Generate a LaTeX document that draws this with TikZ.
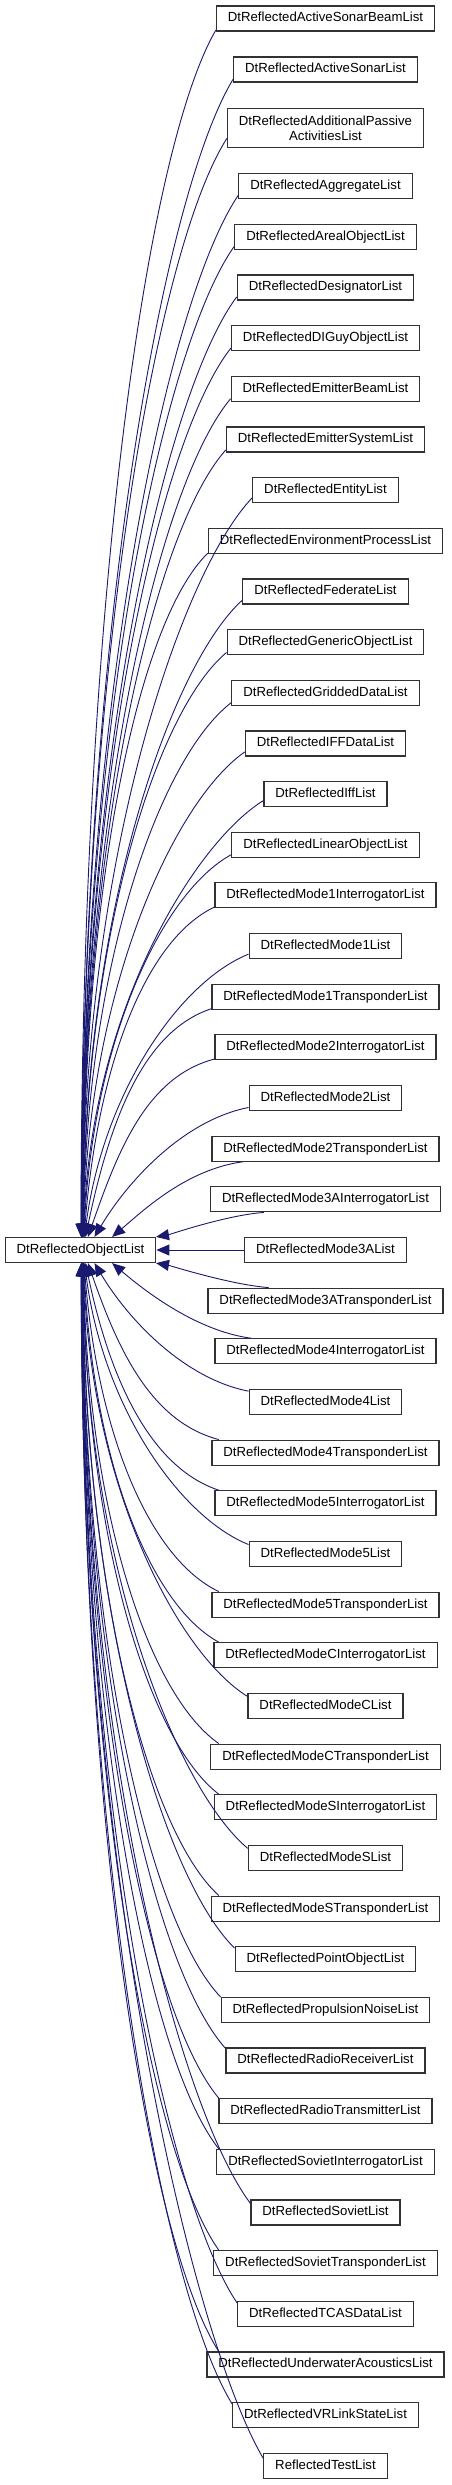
\documentclass[tikz,border=0pt]{standalone}
\usepackage{fontspec}
\setmainfont{Liberation Sans}
\usetikzlibrary{arrows.meta,calc}
\definecolor{edgeblue}{RGB}{25,25,112}
\definecolor{boxline}{RGB}{50,50,50}
\begin{document}
\begin{tikzpicture}[x=1pt,y=1pt,
  cls/.style={draw=boxline, line width=1.2pt, fill=white,
    font=\fontsize{13.2}{15}\selectfont, inner xsep=11.45pt, inner ysep=0pt,
    minimum height=25pt, align=center},
  one/.style={text height=9.6pt, text depth=2.8pt},
  two/.style={inner ysep=7.1pt},
  inh/.style={draw=edgeblue, line width=0.9pt, -{Triangle[length=13pt,width=11pt]}}]
\fill[white] (0,0) rectangle (451,-2485);
\useasboundingbox (0,0) rectangle (451,-2485);
\node[cls,one] (base) at (80.5,-1250) {DtReflectedObjectList};
\foreach \i/\t in {
 0/DtReflectedActiveSonarBeamList,
 1/DtReflectedActiveSonarList,
 2/{DtReflectedAdditionalPassive\\ActivitiesList},
 3/DtReflectedAggregateList,
 4/DtReflectedArealObjectList,
 5/DtReflectedDesignatorList,
 6/DtReflectedDIGuyObjectList,
 7/DtReflectedEmitterBeamList,
 8/DtReflectedEmitterSystemList,
 9/DtReflectedEntityList,
 10/DtReflectedEnvironmentProcessList,
 11/DtReflectedFederateList,
 12/DtReflectedGenericObjectList,
 13/DtReflectedGriddedDataList,
 14/DtReflectedIFFDataList,
 15/DtReflectedIffList,
 16/DtReflectedLinearObjectList,
 17/DtReflectedMode1InterrogatorList,
 18/DtReflectedMode1List,
 19/DtReflectedMode1TransponderList,
 20/DtReflectedMode2InterrogatorList,
 21/DtReflectedMode2List,
 22/DtReflectedMode2TransponderList,
 23/DtReflectedMode3AInterrogatorList,
 24/DtReflectedMode3AList,
 25/DtReflectedMode3ATransponderList,
 26/DtReflectedMode4InterrogatorList,
 27/DtReflectedMode4List,
 28/DtReflectedMode4TransponderList,
 29/DtReflectedMode5InterrogatorList,
 30/DtReflectedMode5List,
 31/DtReflectedMode5TransponderList,
 32/DtReflectedModeCInterrogatorList,
 33/DtReflectedModeCList,
 34/DtReflectedModeCTransponderList,
 35/DtReflectedModeSInterrogatorList,
 36/DtReflectedModeSList,
 37/DtReflectedModeSTransponderList,
 38/DtReflectedPointObjectList,
 39/DtReflectedPropulsionNoiseList,
 40/DtReflectedRadioReceiverList,
 41/DtReflectedRadioTransmitterList,
 42/DtReflectedSovietInterrogatorList,
 43/DtReflectedSovietList,
 44/DtReflectedSovietTransponderList,
 45/DtReflectedTCASDataList,
 46/DtReflectedUnderwaterAcousticsList,
 47/DtReflectedVRLinkStateList,
 48/ReflectedTestList}{
  \pgfmathsetmacro\yc{\i==0 ? 18.5 : (\i==1 ? 69.5 : (\i==2 ? 128 : 1250+(\i-24)*50.66))}
  \ifnum\i=2
    \node[cls,two] (c\i) at (325.5,-\yc) {\t};
  \else
    \node[cls,one] (c\i) at (325.5,-\yc) {\t};
  \fi
}
\foreach \i in {0,...,48}{
  \pgfmathsetmacro\yc{\i==0 ? 18.5 : (\i==1 ? 69.5 : (\i==2 ? 128 : 1250+(\i-24)*50.66))}
  \pgfmathsetmacro\ad{abs(\yc-1250)}
  \ifnum\i=24
    \draw[inh] (c\i.west) -- (base.east);
  \else
    \pgfmathsetmacro\al{6+6*exp(max(-15,-(\ad-51)/80))}
    \pgfmathtruncatemacro\ang{\yc<1250 ? 180+\al : 180-\al}
    \pgfmathsetmacro\xe{min(156, 81+75*exp(max(-15,-(\ad-51)/50))+4*(1-\ad/1250))}
    \pgfmathsetmacro\ph{90-80*exp(max(-15,-(\ad-51)/106))}
    \pgfmathsetmacro\dy{\ad-25}
    \pgfmathsetmacro\ltwo{0.52*\dy}
    \pgfmathsetmacro\lx{min(70,0.45*(238-\xe))}
    \pgfmathsetmacro\ly{0.1*\dy}
    \pgfmathsetmacro\sg{\yc<1250 ? 1 : -1}
    \ifdim\yc pt<1250pt \def\ea{north}\else\def\ea{south}\fi
    \path (c\i.\ang) coordinate (s);
    \path ($(base.\ea)+(\xe-80.5,0)$) coordinate (e);
    \draw[inh] (s) .. controls ($(s)+(-\lx,{-\sg*\ly})$) and ($(e)+({\ltwo*cos(\ph)},{\sg*\ltwo*sin(\ph)})$) .. (e);
  \fi
}
\end{tikzpicture}
\end{document}
